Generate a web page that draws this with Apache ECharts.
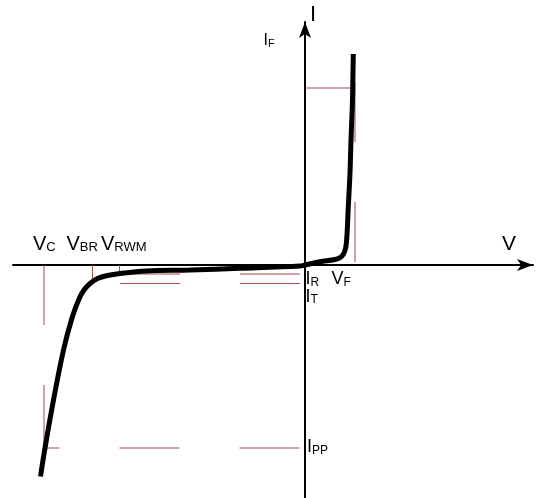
<!DOCTYPE html>
<html>
<head>
<meta charset="utf-8">
<script src="https://cdn.jsdelivr.net/npm/echarts@6/dist/echarts.min.js"></script>
<style>html,body{margin:0;padding:0;background:#fff}#c{width:539px;height:498px}</style>
</head>
<body>
<div id="c"></div>
<script>
// I-V characteristic curve (V, I) in arbitrary units
var curveV = [-52.9, -52.0, -50.3, -48.3, -46.6, -45.2, -44.2, -43.0, -41.5, -39.5, -37.0, -31.7, -23.0, -13.0, -1.0, 0.0, 3.0, 6.0, 7.2, 7.9, 8.3, 8.66, 9.0, 9.2, 9.46, 9.54, 9.66];
var curveI = [-42.3, -36.6, -27.0, -17.0, -10.6, -6.8, -5.0, -3.7, -2.7, -2.1, -1.7, -1.2, -1.0, -0.66, -0.2, 0.0, 0.66, 1.1, 1.6, 2.6, 4.6, 11.66, 18.4, 25.0, 31.66, 35.4, 42.2];

// characteristic levels
var V_C = -52.2, V_BR = -42.5, V_RWM = -37.1, V_F = 10.0;
var I_F = 35.4, I_R = -1.8, I_T = -3.7, I_PP = -36.6;

// reference lines: [x1, y1, x2, y2, dashed]
var refLines = [
  [0, I_F, 9.4, I_F, false],
  [V_F, 0.6, V_F, 36.6, true],
  [V_C, 0, V_C, I_PP, true],
  [-1.1, I_PP, V_C, I_PP, true],
  [-1.0, I_T, V_BR, I_T, true],
  [-1.0, I_R, V_RWM, I_R, true],
  [V_BR, 0, V_BR, I_T, false],
  [V_RWM, 0, V_RWM, I_R, false]
];

// labels: main letter, subscript, position (V, I), size
var labelMain = ['I', 'I', 'V', 'V', 'V', 'V', 'I', 'V', 'I', 'I'];
var labelSub  = ['', 'F', '', 'C', 'BR', 'RWM', 'R', 'F', 'T', 'PP'];
var labelV    = [1.0, -8.3, 39.4, -54.4, -47.7, -40.8, 0.1, 5.3, 0.1, 0.4];
var labelI    = [50.0, 44.8, 4.1, 4.2, 4.2, 4.2, -2.9, -2.9, -6.4, -36.5];
var labelSize = [22, 16, 21, 20, 20, 20, 18, 18, 18, 18];

var FONT = '"Liberation Sans", Arial, sans-serif';
var RED = '#a84a50';

var series = [];
refLines.forEach(function (l) {
  series.push({
    type: 'line', silent: true, symbol: 'none', animation: false, z: 1,
    data: [[l[0], l[1]], [l[2], l[3]]],
    lineStyle: { color: RED, width: 1, type: l[4] ? [60, 60] : 'solid' }
  });
});
series.push({
  type: 'line', silent: true, symbol: 'none', animation: false, z: 5,
  smooth: 0.35,
  data: curveV.map(function (v, i) { return [v, curveI[i]]; }),
  lineStyle: { color: '#000', width: 5, cap: 'butt' }
});
series.push({
  type: 'custom', silent: true, animation: false, z: 6, clip: false,
  data: labelV.map(function (v, i) { return [v, labelI[i]]; }),
  renderItem: function (params, api) {
    var i = params.dataIndex;
    var p = api.coord([api.value(0), api.value(1)]);
    var fs = labelSize[i];
    var ss = Math.round(fs * 0.66);
    var txt = '{m|' + labelMain[i] + '}' + (labelSub[i] ? '{s|' + labelSub[i] + '}' : '');
    return {
      type: 'text', x: p[0], y: p[1],
      style: {
        text: txt, align: 'left', verticalAlign: 'middle', fill: '#000',
        rich: {
          m: { fontSize: fs, fontFamily: FONT, lineHeight: fs, verticalAlign: 'bottom', fill: '#000' },
          s: { fontSize: ss, fontFamily: FONT, lineHeight: ss, verticalAlign: 'bottom', fill: '#000' }
        }
      }
    };
  }
});

var axisCommon = {
  type: 'value',
  axisLine: { show: true, onZero: true, symbol: ['none', 'arrow'], symbolSize: [9, 16], lineStyle: { color: '#000', width: 2 } },
  axisTick: { show: false }, axisLabel: { show: false }, splitLine: { show: false }
};

var chart = echarts.init(document.getElementById('c'), null, { renderer: 'canvas' });
chart.setOption({
  animation: false,
  backgroundColor: '#fff',
  grid: { left: 13, right: 6, top: 22, bottom: 0, containLabel: false },
  xAxis: Object.assign({}, axisCommon, { min: -58.4, max: 45.6 }),
  yAxis: Object.assign({}, axisCommon, { min: -46.6, max: 48.6 }),
  series: series
});
</script>
</body>
</html>
